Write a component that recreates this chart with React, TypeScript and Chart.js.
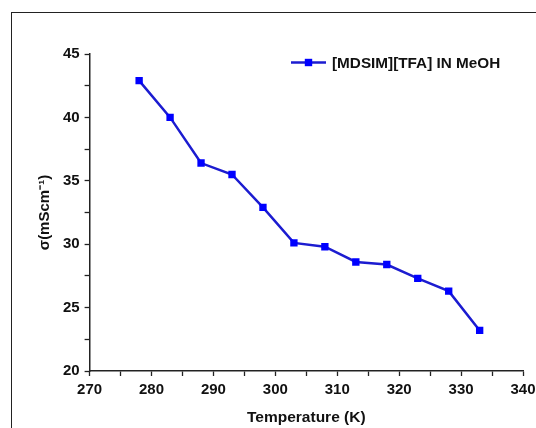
import React, { useEffect, useRef } from "react";
import { Chart, registerables } from "chart.js";

Chart.register(...registerables);

const temperatures = [278, 283, 288, 293, 298, 303, 308, 313, 318, 323, 328, 333];
const conductivity = [42.9, 40.0, 36.4, 35.5, 32.9, 30.1, 29.8, 28.6, 28.4, 27.3, 26.3, 23.2];
const seriesLabel = "[MDSIM][TFA] IN MeOH";
const xTitle = "Temperature (K)";
const yTitle = "\u03c3(mScm\u207b\u00b9)";

const FONT = "'Liberation Sans', Arial, sans-serif";
const LINE = "#1c1cd0";
const MARK = "#0000ff";

const legendPlugin = {
  id: "customLegend",
  afterDraw(chart: any) {
    const ctx = chart.ctx;
    ctx.save();
    const y = 62.5;
    ctx.strokeStyle = LINE;
    ctx.lineWidth = 2.5;
    ctx.beginPath();
    ctx.moveTo(291, y);
    ctx.lineTo(326, y);
    ctx.stroke();
    ctx.fillStyle = MARK;
    ctx.fillRect(308.5 - 3.7, y - 3.7, 7.4, 7.4);
    ctx.fillStyle = "#111";
    ctx.font = `bold 15.3px ${FONT}`;
    ctx.textBaseline = "middle";
    ctx.textAlign = "left";
    ctx.fillText(chart.data.datasets[0].label, 332, y + 1);
    ctx.restore();
  },
};

export default function App() {
  const ref = useRef<HTMLCanvasElement>(null);
  useEffect(() => {
    document.body.style.margin = "0";
    const chart = new Chart(ref.current!, {
      type: "line",
      data: {
        datasets: [
          {
            label: seriesLabel,
            data: temperatures.map((t, i) => ({ x: t, y: conductivity[i] })),
            borderColor: LINE,
            borderWidth: 2.5,
            backgroundColor: MARK,
            pointStyle: "rect",
            pointRadius: 5.2,
            pointBorderWidth: 0,
            pointBackgroundColor: MARK,
            tension: 0,
          },
        ],
      },
      options: {
        animation: false,
        responsive: false,
        layout: { padding: { left: 0, right: 13, top: 54, bottom: 0 } },
        plugins: { legend: { display: false }, tooltip: { enabled: false } },
        scales: {
          x: {
            type: "linear",
            min: 270,
            max: 340,
            border: { color: "#222", width: 1.5 },
            grid: {
              drawOnChartArea: false,
              drawTicks: true,
              tickLength: 5,
              tickColor: "#222",
              tickWidth: 1.3,
            },
            ticks: {
              stepSize: 5,
              color: "#111",
              font: { family: FONT, size: 15, weight: "bold" },
              padding: 5,
              maxRotation: 0,
              callback: (v: any) => (Number(v) % 10 === 0 ? String(v) : ""),
            },
            title: {
              display: true,
              text: xTitle,
              color: "#111",
              font: { family: FONT, size: 15.5, weight: "bold" },
              padding: { top: 6, bottom: 1 },
            },
            afterFit: (s: any) => {
              s.height = 57;
              s.paddingLeft = 0;
              s.paddingRight = 0;
            },
          },
          y: {
            type: "linear",
            min: 20,
            max: 45,
            border: { color: "#222", width: 1.5 },
            grid: {
              drawOnChartArea: false,
              drawTicks: true,
              tickLength: 5,
              tickColor: "#222",
              tickWidth: 1.3,
            },
            ticks: {
              stepSize: 2.5,
              color: "#111",
              font: { family: FONT, size: 15, weight: "bold" },
              padding: 5,
              callback: (v: any) => (Number(v) % 5 === 0 ? String(v) : ""),
            },
            title: {
              display: true,
              text: yTitle,
              color: "#111",
              font: { family: FONT, size: 15, weight: "bold" },
              padding: { top: 36, bottom: 0 },
            },
            afterFit: (s: any) => {
              s.width = 89.6;
              s.paddingTop = 0;
              s.paddingBottom = 0;
            },
          },
        },
      },
      plugins: [legendPlugin],
    });
    return () => chart.destroy();
  }, []);

  return (
    <div style={{ position: "fixed", left: 0, top: 0, width: 536, height: 428, background: "#fff", overflow: "hidden" }}>
      <div
        style={{
          position: "absolute",
          left: 11,
          top: 12,
          width: 600,
          height: 600,
          borderLeft: "1.5px solid #222",
          borderTop: "1.5px solid #222",
        }}
      />
      <canvas ref={ref} width={536} height={428} style={{ position: "absolute", left: 0, top: 0 }} />
    </div>
  );
}
